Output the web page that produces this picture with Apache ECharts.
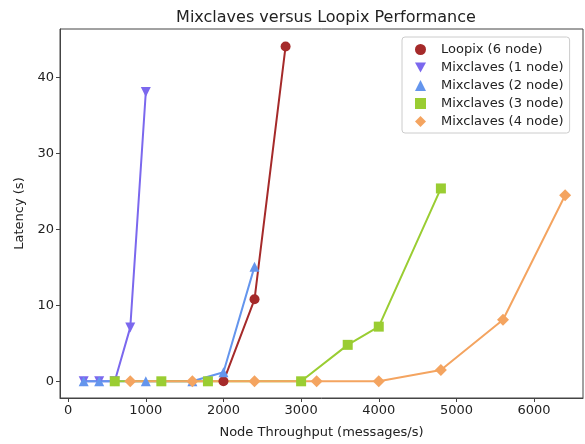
<!DOCTYPE html>
<html>
<head>
<meta charset="utf-8">
<script src="https://cdn.jsdelivr.net/npm/echarts@6/dist/echarts.min.js"></script>
<style>html,body{margin:0;padding:0;background:#fff}#c{width:585px;height:444px}</style>
</head>
<body>
<div id="c"></div>
<script>
const loopixX = [2000, 2400, 2800];
const loopixY = [0, 10.8, 44.1];
const mix1X = [200, 400, 600, 800, 1000];
const mix1Y = [0, 0, 0, 7.1, 38.1];
const mix2X = [200, 400, 1000, 1600, 2000, 2400];
const mix2Y = [0, 0, 0, 0, 1.2, 15.1];
const mix3X = [600, 1200, 1800, 3000, 3600, 4000, 4800];
const mix3Y = [0, 0, 0, 0, 4.8, 7.2, 25.4];
const mix4X = [800, 1600, 2400, 3200, 4000, 4800, 5600, 6400];
const mix4Y = [0, 0, 0, 0, 0, 1.5, 8.1, 24.5];
const seriesNames = ['Loopix (6 node)', 'Mixclaves (1 node)', 'Mixclaves (2 node)', 'Mixclaves (3 node)', 'Mixclaves (4 node)'];
const xTicks = [0, 1000, 2000, 3000, 4000, 5000, 6000];
const yTicks = [0, 10, 20, 30, 40];

const zip = (xs, ys) => xs.map((x, i) => [x, ys[i]]);
const font = 'DejaVu Sans';
const downTri = 'path://M0,0 L10,0 L5,9 Z';
const colors = ['#a52a2a', '#7b68ee', '#6495ed', '#9acd32', '#f4a460'];
const symbols = ['circle', downTri, 'triangle', 'rect', 'diamond'];
const sizes = [10, 10, 10, 10, 12];
const xsAll = [loopixX, mix1X, mix2X, mix3X, mix4X];
const ysAll = [loopixY, mix1Y, mix2Y, mix3Y, mix4Y];

const chart = echarts.init(document.getElementById('c'));
chart.setOption({
  animation: false,
  title: { text: 'Mixclaves versus Loopix Performance', left: 321, textAlign: 'center', top: 5,
    textStyle: { fontFamily: font, fontSize: 16, fontWeight: 'normal', color: '#222' } },
  grid: { left: 60, top: 29, width: 523, height: 372, show: true, borderColor: '#444', borderWidth: 1 },
  legend: {
    left: 402, top: 37, orient: 'vertical', itemGap: 5, itemWidth: 11, itemHeight: 11,
    backgroundColor: '#fff', borderColor: '#ccc', borderWidth: 1, borderRadius: 3,
    padding: [6, 6, 5, 13],
    textStyle: { fontFamily: font, fontSize: 13, color: '#222', padding: [0, 0, 0, 10] },
    data: seriesNames.map((n, i) => ({ name: n, icon: symbols[i], itemStyle: { color: colors[i] } }))
  },
  xAxis: {
    type: 'value', min: -105, max: 6630, interval: 1000,
    name: 'Node Throughput (messages/s)', nameLocation: 'middle', nameGap: 28,
    nameTextStyle: { fontFamily: font, fontSize: 13, color: '#222' },
    axisLine: { show: true, onZero: false, lineStyle: { color: '#444' } },
    axisTick: { show: true, length: 4, lineStyle: { color: '#444' }, customValues: xTicks },
    axisLabel: { fontFamily: font, fontSize: 13, color: '#222', margin: 6, customValues: xTicks,
      formatter: v => String(v) },
    splitLine: { show: false }
  },
  yAxis: {
    type: 'value', min: -2.2, max: 46.4,
    name: 'Latency (s)', nameLocation: 'middle', nameGap: 34, nameRotate: 90,
    nameTextStyle: { fontFamily: font, fontSize: 13, color: '#222' },
    axisLine: { show: true, onZero: false, lineStyle: { color: '#444' } },
    axisTick: { show: true, length: 4, lineStyle: { color: '#444' }, customValues: yTicks },
    axisLabel: { fontFamily: font, fontSize: 13, color: '#222', margin: 6, customValues: yTicks,
      formatter: v => String(v) },
    splitLine: { show: false }
  },
  series: seriesNames.map((name, i) => ({
    name, type: 'line', data: zip(xsAll[i], ysAll[i]), symbol: symbols[i], symbolSize: sizes[i],
    itemStyle: { color: colors[i] }, lineStyle: { color: colors[i], width: 2 }, emphasis: { disabled: true }
  }))
});
</script>
</body>
</html>
